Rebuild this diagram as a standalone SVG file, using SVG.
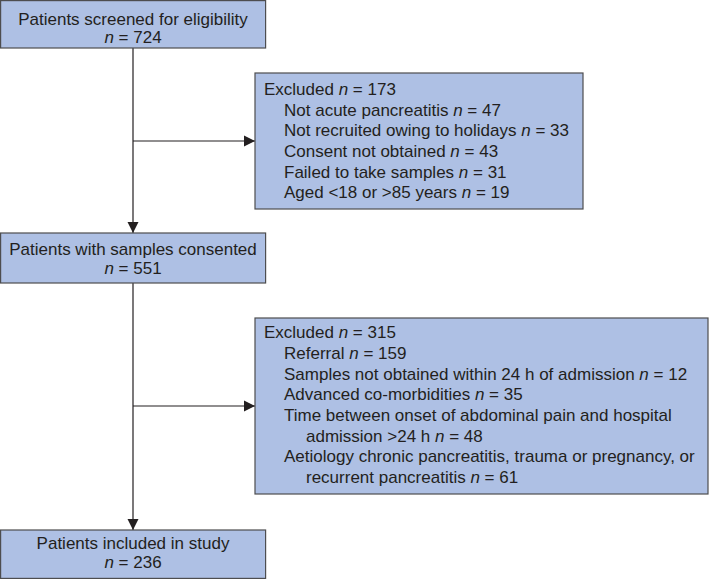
<svg xmlns="http://www.w3.org/2000/svg" width="709" height="580" viewBox="0 0 709 580">
<defs>
<marker id="arr" markerWidth="12" markerHeight="12" refX="11" refY="6" orient="auto" markerUnits="userSpaceOnUse">
<path d="M0,0.5 L11,6 L0,11.5 Z" fill="#231f20"/>
</marker>
</defs>
<style>
.box{fill:#aec0e4;stroke:#4d4d4f;stroke-width:1.2}
text{font-family:"Liberation Sans",Arial,sans-serif;font-size:17px;fill:#231f20}
.c{text-anchor:middle}
.conn{stroke:#231f20;stroke-width:1.2;fill:none}
</style>
<g id="connectors">
<line class="conn" x1="133" y1="48" x2="133" y2="233" marker-end="url(#arr)"/>
<line class="conn" x1="133" y1="141" x2="255" y2="141" marker-end="url(#arr)"/>
<line class="conn" x1="133" y1="283" x2="133" y2="530" marker-end="url(#arr)"/>
<line class="conn" x1="133" y1="406" x2="255" y2="406" marker-end="url(#arr)"/>
</g>
<g id="screened">
<rect class="box" x="0.6" y="0.6" width="265" height="47.4"/>
<text class="c" x="133" y="25">Patients screened for eligibility</text>
<text class="c" x="133" y="43"><tspan font-style="italic">n</tspan> = 724</text>
</g>
<g id="excluded1">
<rect class="box" x="255" y="73" width="328" height="136"/>
<text x="264" y="95">Excluded <tspan font-style="italic">n</tspan> = 173</text>
<text x="284" y="116">Not acute pancreatitis <tspan font-style="italic">n</tspan> = 47</text>
<text x="284" y="136">Not recruited owing to holidays <tspan font-style="italic">n</tspan> = 33</text>
<text x="284" y="157">Consent not obtained <tspan font-style="italic">n</tspan> = 43</text>
<text x="284" y="178">Failed to take samples <tspan font-style="italic">n</tspan> = 31</text>
<text x="284" y="198">Aged &lt;18 or &gt;85 years <tspan font-style="italic">n</tspan> = 19</text>
</g>
<g id="consented">
<rect class="box" x="0.6" y="233" width="265" height="50"/>
<text class="c" x="133" y="255">Patients with samples consented</text>
<text class="c" x="133" y="274"><tspan font-style="italic">n</tspan> = 551</text>
</g>
<g id="excluded2">
<rect class="box" x="255" y="318" width="453" height="176"/>
<text x="264" y="338">Excluded <tspan font-style="italic">n</tspan> = 315</text>
<text x="284" y="359">Referral <tspan font-style="italic">n</tspan> = 159</text>
<text x="284" y="380">Samples not obtained within 24 h of admission <tspan font-style="italic">n</tspan> = 12</text>
<text x="284" y="400">Advanced co-morbidities <tspan font-style="italic">n</tspan> = 35</text>
<text x="284" y="421">Time between onset of abdominal pain and hospital</text>
<text x="306" y="442">admission &gt;24 h <tspan font-style="italic">n</tspan> = 48</text>
<text x="284" y="462">Aetiology chronic pancreatitis, trauma or pregnancy, or</text>
<text x="306" y="483">recurrent pancreatitis <tspan font-style="italic">n</tspan> = 61</text>
</g>
<g id="included">
<rect class="box" x="0.6" y="530" width="265" height="48.4"/>
<text class="c" x="133" y="549">Patients included in study</text>
<text class="c" x="133" y="568"><tspan font-style="italic">n</tspan> = 236</text>
</g>
</svg>
